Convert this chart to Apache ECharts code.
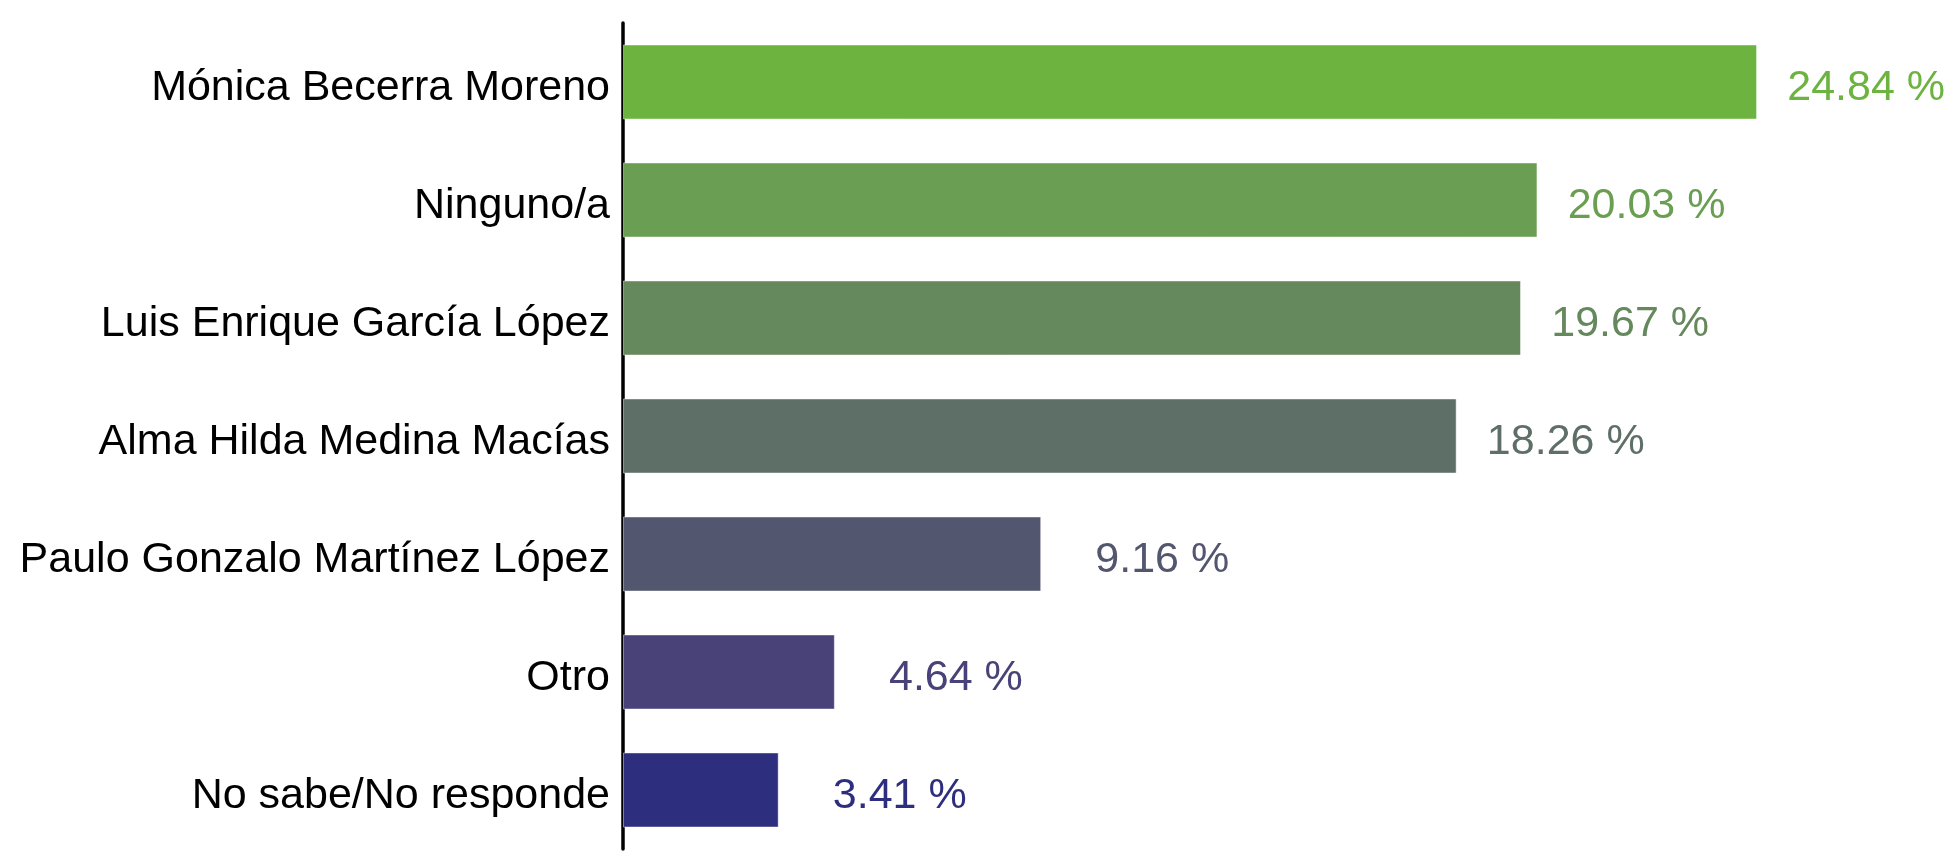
<!DOCTYPE html>
<html>
<head>
<meta charset="utf-8">
<script src="https://cdn.jsdelivr.net/npm/echarts@6/dist/echarts.min.js"></script>
<style>
  html, body { margin: 0; padding: 0; background: #fff; }
  #chart { width: 1957px; height: 856px; }
</style>
</head>
<body>
<div id="chart"></div>
<script>
// data (top to bottom)
const categories = [
  "Mónica Becerra Moreno",
  "Ninguno/a",
  "Luis Enrique García López",
  "Alma Hilda Medina Macías",
  "Paulo Gonzalo Martínez López",
  "Otro",
  "No sabe/No responde",
];
const values = [24.84, 20.03, 19.67, 18.26, 9.16, 4.64, 3.41];
const barColors = [
  "#6db33f",
  "#6a9e52",
  "#65885d",
  "#5e6f67",
  "#53566f",
  "#484279",
  "#2e2e7e",
];

const chart = echarts.init(document.getElementById("chart"));

chart.setOption({
  animation: false,
  grid: { left: 623, right: 0, top: 23, height: 826 },
  xAxis: {
    type: "value",
    min: 0,
    max: 29.22,
    show: false,
  },
  yAxis: {
    type: "category",
    inverse: true,
    data: categories,
    axisLine: { show: true, lineStyle: { color: "#000", width: 3.5 } },
    axisTick: { show: false },
    axisLabel: {
      margin: 13,
      formatter: (v) => "{c|" + v + "}",
      rich: {
        c: {
          color: "#000",
          fontFamily: "Liberation Sans",
          fontSize: 43,
          padding: [12, 0, 0, 0],
        },
      },
    },
  },
  series: [
    {
      type: "bar",
      barWidth: "63.6%",
      data: values.map((v, i) => ({
        value: v,
        itemStyle: {
          color: barColors[i],
          borderColor: "rgba(255,255,255,0.45)",
          borderWidth: 1,
        },
        label: { color: barColors[i] },
      })),
      label: {
        show: true,
        position: "right",
        distance: 188,
        align: "right",
        offset: [0, 6],
        fontFamily: "Liberation Sans",
        fontSize: 43,
        formatter: (p) => p.value.toFixed(2) + " %",
      },
    },
  ],
});
</script>
</body>
</html>
